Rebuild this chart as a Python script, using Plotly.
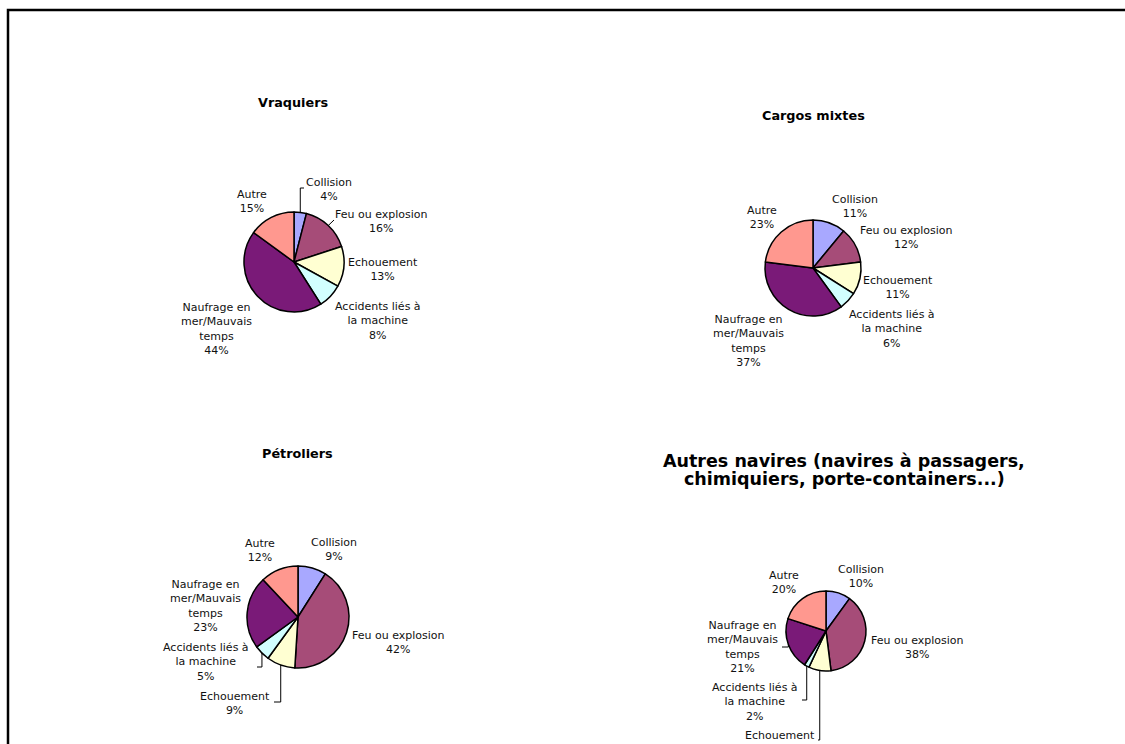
import math
import plotly.graph_objects as go

W, H = 1125, 744

# ---------------- data ----------------
categories = ["Collision", "Feu ou explosion", "Echouement",
              "Accidents liés à la machine", "Naufrage en mer/Mauvais temps", "Autre"]
label_lines = ["Collision", "Feu ou explosion", "Echouement",
               "Accidents liés à<br>la machine", "Naufrage en<br>mer/Mauvais<br>temps", "Autre"]
vraquiers = [4, 16, 13, 8, 44, 15]
cargos_mixtes = [11, 12, 11, 6, 37, 23]
petroliers = [9, 42, 9, 5, 23, 12]
autres_navires = [10, 38, 9, 2, 21, 20]
chart_titles = ["Vraquiers", "Cargos mixtes", "Pétroliers",
                "Autres navires (navires à passagers,<br>chimiquiers, porte-containers...)"]
series = [vraquiers, cargos_mixtes, petroliers, autres_navires]

# ---------------- styles / layout ----------------
colors = ["#A8A8FF", "#A64C78", "#FFFFD2", "#D2FFFF", "#7A1A78", "#FF988F"]
FONT = "Verdana, DejaVu Sans, sans-serif"
LABEL_SIZE = 11

layouts = [
    dict(c=(294, 262), r=50, tpos=(293, 103), tsize=12.8, tgap=18,
         offs=[(35, -73), (87, -41), (89, 7), (84, 59), (-78, 67), (-42, -61)],
         leaders={0: ((10, -74), True), 1: ((40, -42), False)}),
    dict(c=(813, 268), r=48, tpos=(813, 116), tsize=12.8, tgap=18,
         offs=[(42, -61), (93, -30), (85, 19), (79, 61), (-65, 73), (-51, -51)],
         leaders={}),
    dict(c=(298, 617), r=51, tpos=(297, 453), tsize=12.8, tgap=18,
         offs=[(36, -68), (100, 25), (-63, 86), (-92, 45), (-93, -11), (-38, -67)],
         leaders={3: ((-41, 50), True), 2: ((-24, 85), True)}),
    dict(c=(826, 631), r=40, tpos=(844, 470), tsize=17.5, tgap=18,
         offs=[(35, -55), (92, 16), (-46, 111), (-71, 71), (-83, 16), (-42, -49)],
         leaders={4: ((-44, 16), True), 3: ((-24, 69), True), 2: ((-8, 109), True)}),
]


def px(x):
    return x / W


def py(y):
    return 1 - y / H


fig = go.Figure()
annotations = []
shapes = []

for vals, lay, ttl in zip(series, layouts, chart_titles):
    cx, cy = lay["c"]
    r = lay["r"]
    fig.add_trace(go.Pie(
        values=vals, labels=categories, sort=False, direction="clockwise", rotation=0,
        marker=dict(colors=colors, line=dict(color="black", width=1.5)),
        textinfo="none", hoverinfo="label+percent", showlegend=False,
        domain=dict(x=[px(cx - r), px(cx + r)], y=[py(cy + r), py(cy - r)]),
    ))
    # title (lines placed individually for tight line spacing)
    tx, ty = lay["tpos"]
    tlines = ttl.split("<br>")
    n = len(tlines)
    for k, line in enumerate(tlines):
        yy = ty + (k - (n - 1) / 2) * lay["tgap"]
        annotations.append(dict(
            x=px(tx), y=py(yy), xref="paper", yref="paper",
            text="<b>" + line + "</b>", showarrow=False, xanchor="center", yanchor="middle",
            font=dict(family=FONT, size=lay["tsize"], color="black"), align="center"))

    total = sum(vals)
    cum = 0
    for i, v in enumerate(vals):
        pct = round(v / total * 100)
        ox, oy = lay["offs"][i]
        annotations.append(dict(
            x=px(cx + ox), y=py(cy + oy), xref="paper", yref="paper",
            text=f"{label_lines[i]}<br>{pct}%", showarrow=False,
            xanchor="center", yanchor="middle", align="center",
            font=dict(family=FONT, size=LABEL_SIZE, color="#111111")))
        mid = (cum + v / 2) / total * 2 * math.pi
        cum += v
        if i in lay["leaders"]:
            (ex, ey), elbow = lay["leaders"][i]
            sx = cx + r * math.sin(mid)
            sy = cy - r * math.cos(mid)
            ex, ey = cx + ex, cy + ey
            if elbow:
                path = f"M {px(sx)} {py(sy)} L {px(sx)} {py(ey)} L {px(ex)} {py(ey)}"
            else:
                path = f"M {px(sx)} {py(sy)} L {px(ex)} {py(ey)}"
            shapes.append(dict(type="path", path=path, xref="paper", yref="paper",
                               line=dict(color="black", width=1)))

# outer frame
shapes.append(dict(type="rect", xref="paper", yref="paper",
                   x0=px(8), x1=1.02, y0=-0.02, y1=py(10),
                   line=dict(color="black", width=2.5), fillcolor="rgba(0,0,0,0)"))

fig.update_layout(
    width=W, height=H, margin=dict(l=0, r=0, t=0, b=0),
    paper_bgcolor="white", plot_bgcolor="white",
    annotations=annotations, shapes=shapes,
    font=dict(family=FONT),
)

fig.write_html("out.html", config={"displayModeBar": False})
